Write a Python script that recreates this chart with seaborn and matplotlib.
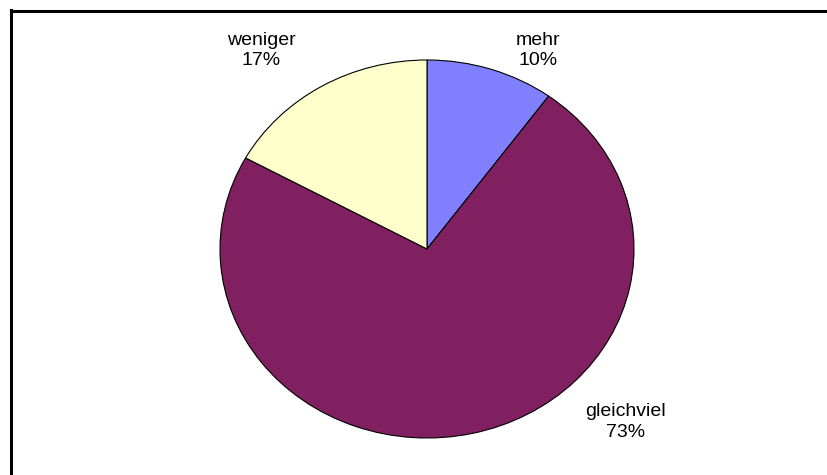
import matplotlib
matplotlib.use('Agg')
import matplotlib.pyplot as plt
import seaborn as sns
from matplotlib.lines import Line2D

# data
categories = ['mehr', 'gleichviel', 'weniger']
shares = [10, 73, 17]
colors = ['#8080FF', '#802060', '#FFFFCC']

# label anchor points in axes data units (pie radius = 1)
label_pos = [(0.536, 1.05), (0.957, -0.915), (-0.80, 1.05)]

sns.set_theme(style='white')
plt.rcParams['font.family'] = ['Liberation Sans', 'DejaVu Sans']

W, H = 828, 475
fig = plt.figure(figsize=(W / 100, H / 100), dpi=100)
fig.patch.set_facecolor('white')

# ellipse: centre (427, 249), rx 207, ry 189 in pixels
cx, cy, rx, ry = 427, 249, 207, 189
ax = fig.add_axes([(cx - rx) / W, (H - cy - ry) / H, 2 * rx / W, 2 * ry / H])

ax.pie(shares, colors=colors, startangle=90, counterclock=False,
       wedgeprops=dict(edgecolor='black', linewidth=0.8))
ax.set_aspect('auto')
ax.set_xlim(-1, 1)
ax.set_ylim(-1, 1)
ax.axis('off')

for name, val, (x, y) in zip(categories, shares, label_pos):
    ax.text(x, y, f'{name}\n{val}%', ha='center', va='center',
            fontsize=14, color='black', linespacing=1.3, clip_on=False)

# chart area border: only left and top edge visible
lw = 2.2
fig.add_artist(Line2D([11 / W, 11 / W], [0, 1 - 10 / H], color='black', lw=lw,
                      transform=fig.transFigure, solid_capstyle='projecting'))
fig.add_artist(Line2D([11 / W, 1], [1 - 11 / H, 1 - 11 / H], color='black', lw=lw,
                      transform=fig.transFigure, solid_capstyle='projecting'))

fig.savefig('out.png', dpi=100)
